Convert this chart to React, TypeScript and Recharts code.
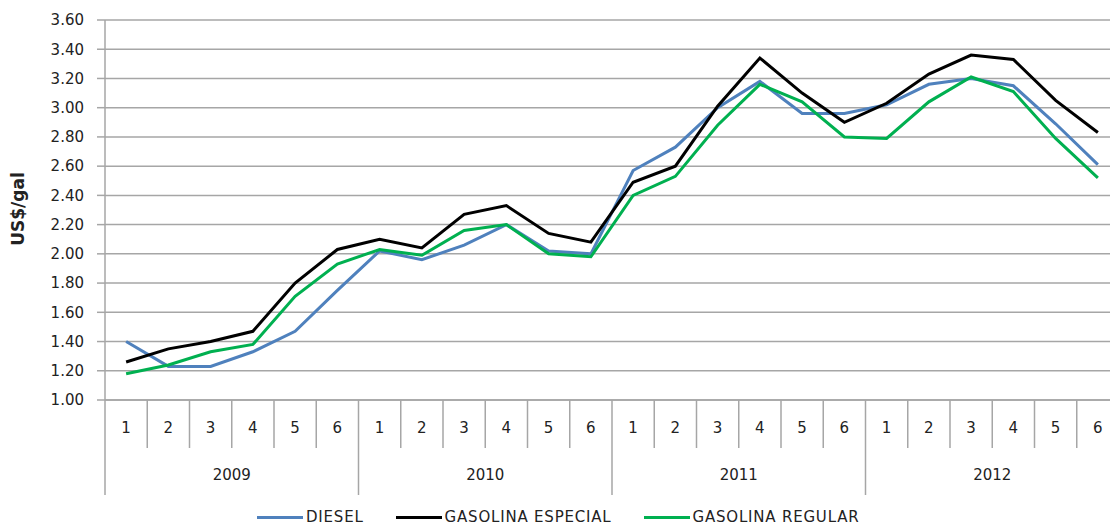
import React from "react";
import { LineChart, Line, XAxis, YAxis, CartesianGrid } from "recharts";

const years = ["2009", "2010", "2011", "2012"];
const months = ["1", "2", "3", "4", "5", "6"];
const yTicks = [1.0, 1.2, 1.4, 1.6, 1.8, 2.0, 2.2, 2.4, 2.6, 2.8, 3.0, 3.2, 3.4, 3.6];

const diesel = [1.40, 1.23, 1.23, 1.33, 1.47, 1.75, 2.02, 1.96, 2.06, 2.20, 2.02, 2.00, 2.57, 2.73, 3.00, 3.18, 2.96, 2.96, 3.02, 3.16, 3.20, 3.15, 2.89, 2.61];
const especial = [1.26, 1.35, 1.40, 1.47, 1.80, 2.03, 2.10, 2.04, 2.27, 2.33, 2.14, 2.08, 2.49, 2.60, 3.01, 3.34, 3.10, 2.90, 3.03, 3.23, 3.36, 3.33, 3.05, 2.83];
const regular = [1.18, 1.24, 1.33, 1.38, 1.71, 1.93, 2.03, 1.99, 2.16, 2.20, 2.00, 1.98, 2.40, 2.53, 2.88, 3.16, 3.04, 2.80, 2.79, 3.04, 3.21, 3.11, 2.79, 2.52];

const series = [
  { key: "diesel", name: "DIESEL", color: "#4F81BD" },
  { key: "especial", name: "GASOLINA ESPECIAL", color: "#000000" },
  { key: "regular", name: "GASOLINA REGULAR", color: "#00B050" },
];

const data = years.flatMap((y, yi) =>
  months.map((m, mi) => {
    const i = yi * months.length + mi;
    return {
      cat: `${y}-${m}`,
      year: y,
      month: m,
      diesel: diesel[i],
      especial: especial[i],
      regular: regular[i],
    };
  })
);

const W = 1130;
const H = 526;
const M_TOP = 20;
const M_RIGHT = 11;
const Y_W = 105;
const X_H = 100;
const AXIS_Y = 400;
const PLOT_W = W - Y_W - M_RIGHT;
const BAND = PLOT_W / data.length;
const FONT = "'DejaVu Sans', Verdana, sans-serif";
const GRID = "#a6a6a6";
const TXT = "#222";

const MonthTick = (props: any) => {
  const { x, payload, index } = props;
  const d = data[index] || data.find((r) => r.cat === payload.value);
  if (!d) return null;
  const axisY = AXIS_Y;
  const left = x - BAND / 2;
  const isFirstMonth = d.month === months[0];
  return (
    <g>
      <line x1={left} x2={left} y1={axisY} y2={isFirstMonth ? axisY + 95 : axisY + 48} stroke={GRID} strokeWidth={1.5} />
      <text x={x} y={axisY + 28} textAnchor="middle" dominantBaseline="central" fontFamily={FONT} fontSize={15} fill={TXT}>
        {d.month}
      </text>
      {d.month === months[2] ? (
        <text x={x + BAND / 2} y={axisY + 75} textAnchor="middle" dominantBaseline="central" fontFamily={FONT} fontSize={15} fill={TXT}>
          {d.year}
        </text>
      ) : null}
    </g>
  );
};

const LegendBox = () => (
  <div
    style={{
      position: "absolute",
      left: 257,
      top: 508,
      display: "flex",
      alignItems: "center",
      gap: 32,
      fontFamily: FONT,
      fontSize: 15,
      letterSpacing: 0.8,
      color: TXT,
      whiteSpace: "nowrap",
      lineHeight: "18px",
    }}
  >
    {series.map((s) => (
      <div key={s.key} style={{ display: "flex", alignItems: "center" }}>
        <div style={{ width: 46, height: 3, background: s.color, marginRight: 3 }} />
        <span>{s.name}</span>
      </div>
    ))}
  </div>
);

export default function App() {
  return (
    <div
      style={{
        position: "absolute",
        left: 0,
        top: 0,
        width: 1110,
        height: 526,
        overflow: "hidden",
        background: "#fff",
      }}
    >
      <LineChart
        width={W}
        height={H}
        data={data}
        margin={{ top: M_TOP, right: M_RIGHT, bottom: H - AXIS_Y - X_H, left: 0 }}
      >
        <CartesianGrid horizontal vertical={false} stroke={GRID} strokeWidth={1.5} />
        <XAxis
          dataKey="cat"
          scale="band"
          interval={0}
          height={X_H}
          tickLine={false}
          axisLine={{ stroke: GRID, strokeWidth: 1.5 }}
          tick={<MonthTick />}
        />
        <YAxis
          width={Y_W}
          domain={[1, 3.6]}
          ticks={yTicks}
          type="number"
          allowDataOverflow
          tickFormatter={(v: number) => v.toFixed(2)}
          tickSize={8}
          tickMargin={13}
          tick={{ fontFamily: FONT, fontSize: 15, fill: TXT }}
          axisLine={{ stroke: GRID, strokeWidth: 1.5 }}
          tickLine={{ stroke: GRID, strokeWidth: 1.5 }}
          label={{
            content: () => (
              <text
                transform={`translate(18, 209) rotate(-90)`}
                textAnchor="middle"
                dominantBaseline="central"
                fontFamily={FONT}
                fontSize={17}
                fontWeight="bold"
                fill={TXT}
              >
                US$/gal
              </text>
            ),
          }}
        />
        {series.map((s) => (
          <Line
            key={s.key}
            type="linear"
            dataKey={s.key}
            name={s.name}
            stroke={s.color}
            strokeWidth={3}
            dot={false}
            activeDot={false}
            isAnimationActive={false}
          />
        ))}
      </LineChart>
      <LegendBox />
    </div>
  );
}
